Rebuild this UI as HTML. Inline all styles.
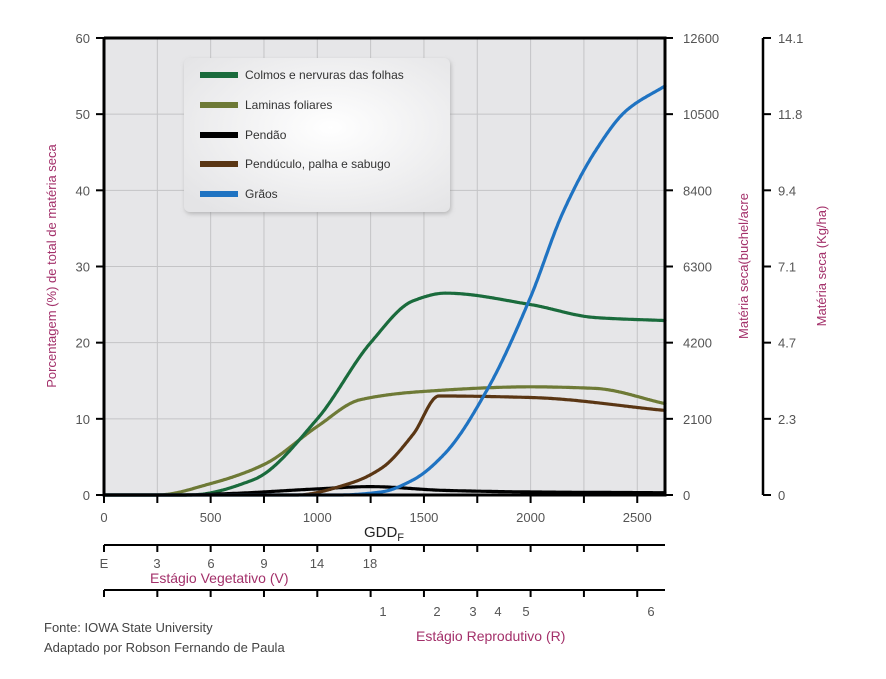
<!DOCTYPE html>
<html><head><meta charset="utf-8"><style>
body{margin:0;background:#fff;}
svg{display:block;font-family:"Liberation Sans",sans-serif;}
</style></head><body>
<svg id="s" width="886" height="679" viewBox="0 0 886 679">
<defs>
<radialGradient id="lg" cx="0.55" cy="0.45" r="0.7"><stop offset="0" stop-color="#ffffff"/><stop offset="1" stop-color="#e4e4e6"/></radialGradient>
<filter id="sh"><feDropShadow dx="1" dy="2" stdDeviation="2" flood-color="#888" flood-opacity="0.5"/></filter>
</defs>
<rect x="104" y="38" width="561" height="457" fill="#e6e6e8"/>
<g id="grid" stroke="#c4c4c6" stroke-width="1"></g>
<g id="curves" fill="none" stroke-width="3.2" stroke-linecap="round"></g>
<g stroke="#000" stroke-width="3" fill="none">
<path d="M104 38 V495 H665 V38 H104"/>
</g>
<g id="ticks" stroke="#000" stroke-width="2"></g>
<line x1="763" y1="38" x2="763" y2="495" stroke="#000" stroke-width="2.5"/>
<g id="labels" fill="#555" font-size="13"></g>
<text x="384" y="537" font-size="15" fill="#222" text-anchor="middle">GDD<tspan font-size="11" dy="4">F</tspan></text>
<text transform="translate(56,266) rotate(-90)" text-anchor="middle" font-size="13" fill="#a3306a">Porcentagem (%) de total de matéria seca</text>
<text transform="translate(748,266) rotate(-90)" text-anchor="middle" font-size="13" fill="#a3306a">Matéria seca(buchel/acre</text>
<text transform="translate(826,266) rotate(-90)" text-anchor="middle" font-size="13" fill="#a3306a">Matéria seca (Kg/ha)</text>
<line x1="104" y1="545" x2="665" y2="545" stroke="#000" stroke-width="2"/>
<line x1="104" y1="590" x2="665" y2="590" stroke="#000" stroke-width="2"/>
<g fill="#555" font-size="13" text-anchor="middle">
<text x="104" y="568">E</text><text x="157" y="568">3</text><text x="211" y="568">6</text><text x="264" y="568">9</text><text x="317" y="568">14</text><text x="370" y="568">18</text>
<text x="383" y="616">1</text><text x="437" y="616">2</text><text x="473" y="616">3</text><text x="498" y="616">4</text><text x="526" y="616">5</text><text x="651" y="616">6</text>
</g>
<text x="150" y="583" font-size="14" fill="#a3306a">Estágio Vegetativo (V)</text>
<text x="416" y="641" font-size="14" fill="#a3306a">Estágio Reprodutivo (R)</text>
<text x="44" y="632" font-size="13" fill="#444">Fonte: IOWA State University</text>
<text x="44" y="652" font-size="13" fill="#444">Adaptado por Robson Fernando de Paula</text>
<rect x="184" y="58" width="266" height="154" rx="6" fill="url(#lg)" filter="url(#sh)"/>
<g font-size="12" fill="#333">
<rect x="200" y="72" width="38" height="6" fill="#1a6b3c"/><text x="245" y="79">Colmos e nervuras das folhas</text>
<rect x="200" y="102" width="38" height="6" fill="#6e7a36"/><text x="245" y="109">Laminas foliares</text>
<rect x="200" y="132" width="38" height="6" fill="#000"/><text x="245" y="139">Pendão</text>
<rect x="200" y="161" width="38" height="6" fill="#5a3614"/><text x="245" y="168">Pendúculo, palha e sabugo</text>
<rect x="200" y="191" width="38" height="6" fill="#1f73c2"/><text x="245" y="198">Grãos</text>
</g>
</svg>
<script>
const NS="http://www.w3.org/2000/svg";
const X=g=>104+g*0.2133, Y=v=>495-v*7.617;
function el(p,t,a,txt){const e=document.createElementNS(NS,t);for(const k in a)e.setAttribute(k,a[k]);if(txt!==undefined)e.textContent=txt;document.getElementById(p).appendChild(e);return e;}
for(let g=250;g<2630;g+=250)el("grid","line",{x1:X(g),y1:38,x2:X(g),y2:495});
for(let v=10;v<60;v+=10)el("grid","line",{x1:104,y1:Y(v),x2:665,y2:Y(v)});
for(let v=0;v<=60;v+=10){el("ticks","line",{x1:96,y1:Y(v),x2:104,y2:Y(v)});el("labels","text",{x:90,y:Y(v)+5,"text-anchor":"end"},v);}
const r1=[0,2100,4200,6300,8400,10500,12600],r2=[0,2.3,4.7,7.1,9.4,11.8,14.1];
for(let i=0;i<7;i++){const y=Y(i*10);el("ticks","line",{x1:665,y1:y,x2:673,y2:y});el("labels","text",{x:683,y:y+5},r1[i]);
el("ticks","line",{x1:763,y1:y,x2:771,y2:y});el("labels","text",{x:778,y:y+5},r2[i]);}
for(let g=0;g<2630;g+=250){el("ticks","line",{x1:X(g),y1:495,x2:X(g),y2:503});
el("ticks","line",{x1:X(g),y1:545,x2:X(g),y2:552});el("ticks","line",{x1:X(g),y1:590,x2:X(g),y2:597});}
for(let g=0;g<=2500;g+=500)el("labels","text",{x:X(g),y:522,"text-anchor":"middle"},g);
function mono(pts){const n=pts.length,xs=pts.map(p=>p[0]),ys=pts.map(p=>p[1]);const d=[],m=[];
for(let i=0;i<n-1;i++)d.push((ys[i+1]-ys[i])/(xs[i+1]-xs[i]));
m[0]=d[0];m[n-1]=d[n-2];
for(let i=1;i<n-1;i++){if(d[i-1]*d[i]<=0)m[i]=0;else{const w1=2*(xs[i+1]-xs[i])+(xs[i]-xs[i-1]),w2=(xs[i+1]-xs[i])+2*(xs[i]-xs[i-1]);m[i]=(w1+w2)/(w1/d[i-1]+w2/d[i]);}}
return g=>{if(g<=xs[0])return ys[0];for(let i=0;i<n-1;i++){if(g<=xs[i+1]){const h=xs[i+1]-xs[i],t=(g-xs[i])/h;const t2=t*t,t3=t2*t;
return (2*t3-3*t2+1)*ys[i]+(t3-2*t2+t)*h*m[i]+(-2*t3+3*t2)*ys[i+1]+(t3-t2)*h*m[i+1];}}return ys[n-1];};}
function curve(pts,c){const f=mono(pts);let d="";for(let g=0;g<=2630;g+=5){d+=(g?"L":"M")+X(g).toFixed(1)+" "+Y(f(g)).toFixed(1);}el("curves","path",{d:d,stroke:c});}
curve([[0,0],[250,0],[500,1.5],[750,4],[1000,9],[1200,12.5],[1500,13.6],[2000,14.2],[2300,14],[2630,12]],"#6e7a36");
curve([[0,0],[400,0],[700,2],[1000,10],[1250,20],[1450,25.5],[1600,26.5],[2000,25],[2300,23.3],[2630,22.9]],"#1a6b3c");
curve([[0,0],[350,0],[600,0.2],[1000,0.8],[1250,1.1],[1600,0.6],[2000,0.4],[2630,0.3]],"#000");
curve([[0,0],[900,0],[1150,1.5],[1300,3.5],[1450,8],[1570,13],[2000,12.8],[2630,11.1]],"#5a3614");
curve([[0,0],[1100,0],[1300,0.4],[1450,2],[1600,5.5],[1800,14],[2000,26],[2150,37],[2300,45],[2450,50.5],[2630,53.7]],"#1f73c2");
</script>
</body></html>
